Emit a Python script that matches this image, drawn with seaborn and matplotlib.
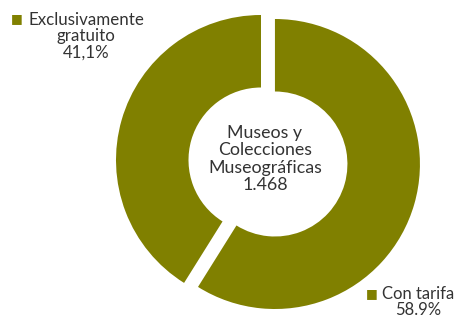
import matplotlib
matplotlib.use('Agg')
import matplotlib.pyplot as plt
import seaborn as sns

sns.set_theme(style='white')
plt.rcParams['font.family'] = ['Lato', 'DejaVu Sans']

# Data
categories = ['Con tarifa', 'Exclusivamente gratuito']
values = [58.9, 41.1]
pct_labels = ['58.9%', '41,1%']
center_title = 'Museos y\nColecciones\nMuseográficas'
center_total = '1.468'

olive = '#808000'
text_color = '#333333'
W, H = 456, 317


def px(x, y):
    # pixel position (from top-left) -> figure fraction
    return x / W, 1 - y / H


fig = plt.figure(figsize=(W / 100, H / 100), dpi=100)
ax = fig.add_axes([0, 0, 1, 1])

ax.pie(values, startangle=90, counterclock=False,
       colors=[olive] * len(values), explode=[0.1, 0],
       wedgeprops=dict(width=0.5, edgecolor='none'))

# radius 1 -> 145 px, pie centre at pixel (261, 160)
r_px = 145.0
cx, cy = 261, 160
ax.set_xlim(-cx / r_px, (W - cx) / r_px)
ax.set_ylim(-(H - cy) / r_px, cy / r_px)
ax.set_aspect('auto')
ax.axis('off')

# centre label
fig.text(*px(265, 159), center_title + '\n' + center_total,
         ha='center', va='center', fontsize=12.8, color=text_color,
         linespacing=1.12)

# legend-like labels
fig.text(*px(86, 36), 'Exclusivamente\ngratuito\n' + pct_labels[1],
         ha='center', va='center', fontsize=12.2, color=text_color,
         linespacing=1.02)
fig.text(*px(23, 19), '■', ha='right', va='center', fontsize=9,
         color=olive, family=['DejaVu Sans'])

fig.text(*px(418, 302), categories[0] + '\n' + pct_labels[0],
         ha='center', va='center', fontsize=12, color=text_color,
         linespacing=1.02)
fig.text(*px(378, 294), '■', ha='right', va='center', fontsize=9,
         color=olive, family=['DejaVu Sans'])

fig.savefig('out.png', dpi=100)
plt.close(fig)
